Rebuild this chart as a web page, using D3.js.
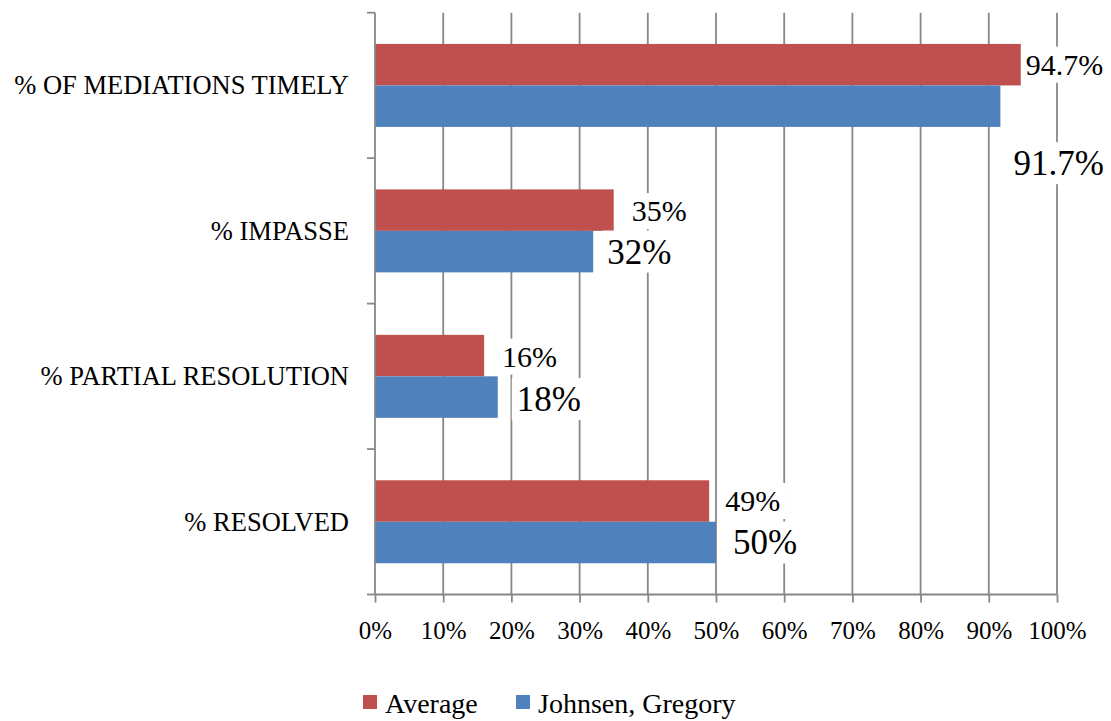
<!DOCTYPE html>
<html><head><meta charset="utf-8">
<script src="https://cdn.jsdelivr.net/npm/d3@7"></script>
<style>body{margin:0;background:#fff}</style></head>
<body><svg id="c" width="1111" height="721"></svg>
<script>
const categories = ["% OF MEDIATIONS TIMELY","% IMPASSE","% PARTIAL RESOLUTION","% RESOLVED"];
const seriesNames = ["Average","Johnsen, Gregory"];
const averageValues = [0.947,0.35,0.16,0.49];
const johnsenValues = [0.917,0.32,0.18,0.50];
const averageLabels = ["94.7%","35%","16%","49%"];
const johnsenLabels = ["91.7%","32%","18%","50%"];
const xTickValues = [0,0.1,0.2,0.3,0.4,0.5,0.6,0.7,0.8,0.9,1.0];

// styling / placement (not data)
const colors = {"Average":"#C0504D","Johnsen, Gregory":"#4F81BD"};
const labelFont = {"Average":30,"Johnsen, Gregory":35};
const labelOffsets = {
  "Average":[[5,0],[18,1],[18,1],[16,0]],
  "Johnsen, Gregory":[[13,57],[14,0],[19,2],[17,0]]
};
const FONT = '"Liberation Serif"';
const gridColor = "#888888";

function draw(){
const svg = d3.select("#c");
svg.selectAll("*").remove();
const pLeft = 375, pRight = 1057, pTop = 12.7, pBottom = 594.5;

const x = d3.scaleLinear().domain([0,1]).range([pLeft,pRight]);
const y = d3.scaleBand().domain(categories).range([pTop,pBottom]);
const ySub = d3.scaleBand().domain(seriesNames).range([0,y.bandwidth()]).paddingOuter(0.753).paddingInner(0);

const rows = categories.map((c,i)=>({cat:c, vals:[
  {s:"Average", v:averageValues[i], label:averageLabels[i], i},
  {s:"Johnsen, Gregory", v:johnsenValues[i], label:johnsenLabels[i], i}
]}));

// gridlines
svg.append("g").selectAll("line").data(xTickValues.slice(1)).join("line")
  .attr("x1",d=>x(d)).attr("x2",d=>x(d)).attr("y1",pTop).attr("y2",pBottom)
  .attr("stroke",gridColor).attr("stroke-width",1.8);

// bars
const g = svg.append("g").selectAll("g").data(rows).join("g")
  .attr("transform",d=>`translate(0,${y(d.cat)})`);
g.selectAll("rect").data(d=>d.vals).join("rect")
  .attr("x",x(0)).attr("y",d=>ySub(d.s))
  .attr("width",d=>x(d.v)-x(0)).attr("height",ySub.bandwidth())
  .attr("fill",d=>colors[d.s]);

// labels with white boxes
const lg = svg.append("g");
rows.forEach(r=>{
  r.vals.forEach(d=>{
    const off = labelOffsets[d.s][d.i];
    const fs = labelFont[d.s];
    const tx = x(d.v)+off[0];
    const ty = y(r.cat)+ySub(d.s)+ySub.bandwidth()/2+off[1];
    const gg = lg.append("g");
    // box sized from font size (approx Times glyph widths), avoids layout queries
    const w = d.label.length*0.5*fs + 0.35*fs;
    gg.append("rect").attr("fill","#fff")
      .attr("x",tx-5).attr("y",ty-0.6*fs).attr("width",w+10).attr("height",1.2*fs);
    gg.append("text").attr("x",tx).attr("y",ty+0.34*fs)
      .style("font-family",FONT).style("font-size",fs+"px")
      .attr("fill","#000").text(d.label);
  });
});

// y axis line + ticks at band boundaries
svg.append("line").attr("x1",pLeft).attr("x2",pLeft).attr("y1",pTop).attr("y2",pBottom)
  .attr("stroke",gridColor).attr("stroke-width",1.8);
const bounds = categories.map(c=>y(c)).concat([y(categories[categories.length-1])+y.bandwidth()]);
svg.append("g").selectAll("line").data(bounds).join("line")
  .attr("x1",pLeft-8).attr("x2",pLeft).attr("y1",d=>d).attr("y2",d=>d)
  .attr("stroke",gridColor).attr("stroke-width",1.8);
svg.append("g").selectAll("text").data(categories).join("text")
  .attr("x",349).attr("y",d=>y(d)+y.bandwidth()/2+0.33*26.5)
  .attr("text-anchor","end")
  .style("font-family",FONT).style("font-size","26.5px").attr("fill","#000").text(d=>d);

// x axis
const xa = svg.append("g").attr("transform",`translate(0,${pBottom})`)
  .call(d3.axisBottom(x).tickValues(xTickValues).tickSize(8).tickPadding(19).tickFormat(d3.format(".0%")));
xa.attr("font-family",null).attr("font-size",null);
xa.select(".domain").attr("stroke",gridColor).attr("stroke-width",1.8).attr("d",`M${pLeft},0H${pRight}`);
xa.selectAll(".tick line").attr("stroke",gridColor).attr("stroke-width",1.8);
xa.selectAll(".tick text").style("font-family",FONT).style("font-size","25px").attr("fill","#000");

// legend
const legendX = {"Average":363,"Johnsen, Gregory":516};
const leg = svg.append("g").selectAll("g").data(seriesNames).join("g")
  .attr("transform",d=>`translate(${legendX[d]},695)`);
leg.append("rect").attr("width",14).attr("height",14).attr("fill",d=>colors[d]);
leg.append("text").attr("x",22).attr("y",18)
  .style("font-family",FONT).style("font-size","28px")
  .attr("fill","#000").text(d=>d);
}
draw();
if (document.fonts && document.fonts.ready) document.fonts.ready.then(draw);
</script></body></html>
